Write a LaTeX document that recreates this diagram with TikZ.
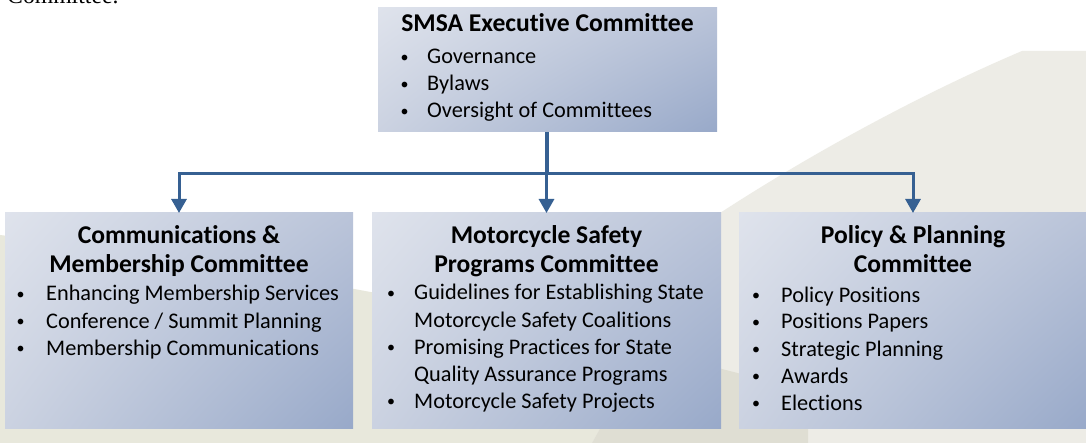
\documentclass[tikz,border=0pt]{standalone}
\usepackage{fontspec}
\setmainfont{Carlito}[Ligatures={NoCommon}]
\newfontfamily\serifrm{Liberation Serif}
\usetikzlibrary{arrows.meta,shadings}
\definecolor{arrowblue}{HTML}{366092}
\definecolor{boxUL}{HTML}{DFE3EC}
\definecolor{boxUR}{HTML}{BAC4D9}
\definecolor{boxLL}{HTML}{CBD2E1}
\definecolor{boxLR}{HTML}{98A9C9}
\definecolor{bgA}{HTML}{E8E8DC}
\definecolor{bgB}{HTML}{EDECE6}
\definecolor{bgAB}{HTML}{DFDED3}
\tikzset{
  box/.style={shade, upper left=boxUL, upper right=boxUR, lower left=boxLL, lower right=boxLR, inner sep=0pt, outer sep=0pt},
  boxtitle/.style={font=\fontsize{25.6}{30}\selectfont\bfseries, anchor=base, inner sep=0pt},
  item/.style={font=\fontsize{22.3}{27}\selectfont, anchor=base west, inner sep=0pt},
  bul/.style={font=\fontsize{16}{20}\selectfont, anchor=base, inner sep=0pt, yshift=1.8pt},
  conn/.style={draw=arrowblue, line width=3pt, line join=miter},
  arr/.style={conn, -{Triangle[width=15pt,length=14pt]}}
}
\begin{document}
\begin{tikzpicture}[x=1pt,y=-1pt]
\useasboundingbox (0,0) rectangle (1086,443);
\clip (0,0) rectangle (1086,443);
\fill[white] (0,0) rectangle (1086,443);
% background shapes
\fill[bgA] (0,235) .. controls (250,265) and (550,320) .. (808,392) -- (808,443) -- (0,443) -- cycle;
\fill[bgB] (720,213) .. controls (820,148) and (930,90) .. (1022,51) -- (1086,51) -- (1086,443) -- (592,443) -- cycle;
\begin{scope}
\clip (0,235) .. controls (250,265) and (550,320) .. (808,392) -- (808,443) -- (0,443) -- cycle;
\fill[bgAB] (720,213) .. controls (820,148) and (930,90) .. (1022,51) -- (1086,51) -- (1086,443) -- (592,443) -- cycle;
\end{scope}
% cut-off text at top (as in the reference)
\node[font=\serifrm\fontsize{23.7}{28}\selectfont, anchor=base west, inner sep=0pt] (prev) at (7,4) {Committee.};
% boxes
\node[box, minimum width=339pt, minimum height=124pt] (exec) at (547.5,70) {};
\node[box, minimum width=348pt, minimum height=215pt] (comm) at (179,320.5) {};
\node[box, minimum width=349pt, minimum height=215pt] (prog) at (546.5,320.5) {};
\node[box, minimum width=348pt, minimum height=215pt] (pol) at (913,320.5) {};
% executive text
\node[boxtitle] (t0) at (547.5,32) {SMSA Executive Committee};
\node[bul] (b01) at (404.5,64) {•};
\node[item] (i01) at (427,64) {Governance};
\node[bul] (b02) at (404.5,91) {•};
\node[item] (i02) at (427,91) {Bylaws};
\node[bul] (b03) at (404.5,118) {•};
\node[item] (i03) at (427,118) {Oversight of Committees};
% communications
\node[boxtitle] (t1a) at (179,244) {Communications \&};
\node[boxtitle] (t1b) at (179,273) {Membership Committee};
\node[bul] (b11) at (20.5,301) {•};
\node[item] (i11) at (46,301) {Enhancing Membership Services};
\node[bul] (b12) at (20.5,328) {•};
\node[item] (i12) at (46,328) {Conference / Summit Planning};
\node[bul] (b13) at (20.5,355) {•};
\node[item] (i13) at (46,355) {Membership Communications};
% programs
\node[boxtitle] (t2a) at (546.5,244) {Motorcycle Safety};
\node[boxtitle] (t2b) at (546.5,273) {Programs Committee};
\node[bul] (b21) at (391,300) {•};
\node[item] (i21) at (414,300) {Guidelines for Establishing State};
\node[item] (i22) at (414,327) {Motorcycle Safety Coalitions};
\node[bul] (b23) at (391,354) {•};
\node[item] (i23) at (414,354) {Promising Practices for State};
\node[item] (i24) at (414,381) {Quality Assurance Programs};
\node[bul] (b25) at (391,408) {•};
\node[item] (i25) at (414,408) {Motorcycle Safety Projects};
% policy
\node[boxtitle] (t3a) at (913,244) {Policy \& Planning};
\node[boxtitle] (t3b) at (913,273) {Committee};
\node[bul] (b31) at (756,302) {•};
\node[item] (i31) at (781,302) {Policy Positions};
\node[bul] (b32) at (756,329) {•};
\node[item] (i32) at (781,329) {Positions Papers};
\node[bul] (b33) at (756,356) {•};
\node[item] (i33) at (781,356) {Strategic Planning};
\node[bul] (b34) at (756,383) {•};
\node[item] (i34) at (781,383) {Awards};
\node[bul] (b35) at (756,410) {•};
\node[item] (i35) at (781,410) {Elections};
% connectors
\coordinate (hub) at (exec.south |- 0,174);
\draw[conn] (exec.south) -- (hub);
\draw[arr] (hub) -| (comm.north);
\draw[arr] (hub) -| (pol.north);
\draw[arr] (exec.south -| prog.north) -- (prog.north);
\end{tikzpicture}
\end{document}
